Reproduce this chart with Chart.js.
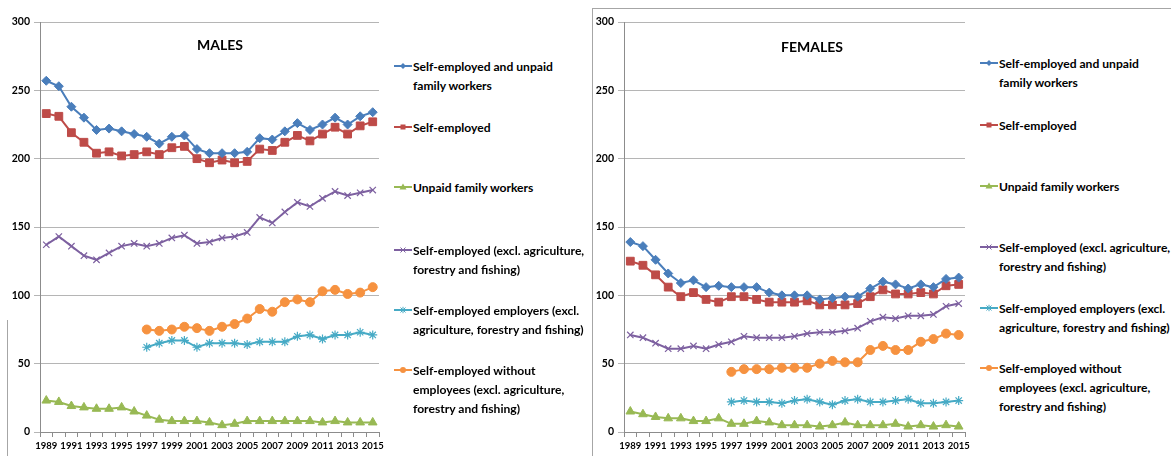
<!DOCTYPE html>
<html>
<head>
<meta charset="utf-8">
<script src="https://cdn.jsdelivr.net/npm/chart.js@4"></script>
<style>
  body { margin: 0; background: #fff; width: 1171px; height: 456px; position: relative; overflow: hidden; font-family: Lato, "Open Sans", sans-serif; }
  canvas { position: absolute; top: 0; }
  #malesChart { left: 0; }
  #femalesChart { left: 584px; }
  .title { position: absolute; font-weight: bold; font-size: 14px; color: #000; transform: translateX(-50%); }
  .legend-item { position: absolute; font-weight: bold; font-size: 12.1px; line-height: 19px; color: #000; white-space: nowrap; }
  .legend-item svg { position: absolute; left: -19px; top: 4px; }
  .frame { position: absolute; background: #a6a6a6; }
</style>
</head>
<body>
<div class="frame" style="left:592px;top:8px;width:579px;height:1px"></div>
<div class="frame" style="left:592px;top:8px;width:1px;height:448px"></div>
<div class="frame" style="left:7px;top:320px;width:1px;height:136px"></div>

<canvas id="malesChart" width="391" height="456"></canvas>
<canvas id="femalesChart" width="392" height="456"></canvas>
<div class="title" style="left:220px;top:36px">MALES</div>
<div class="title" style="left:812px;top:38px">FEMALES</div>
<div id="malesLegend"></div>
<div id="femalesLegend"></div>

<script>
// DATA
const years = ["1989","1990","1991","1992","1993","1994","1995","1996","1997","1998","1999","2000","2001","2002",
               "2003","2004","2005","2006","2007","2008","2009","2010","2011","2012","2013","2014","2015"];
const yTicks = [0, 50, 100, 150, 200, 250, 300];

const seriesLabels = [
    ["Self-employed and unpaid", "family workers"],
    ["Self-employed"],
    ["Unpaid family workers"],
    ["Self-employed (excl. agriculture,", "forestry and fishing)"],
    ["Self-employed employers (excl.", "agriculture, forestry and fishing)"],
    ["Self-employed without", "employees (excl. agriculture,", "forestry and fishing)"]
];

// males
const mSelfAndUnpaid = [257,253,238,230,221,222,220,218,216,211,216,217,207,204,204,204,205,215,214,220,226,221,225,230,225,231,234];
const mSelfEmployed  = [233,231,219,212,204,205,202,203,205,203,208,209,200,197,199,197,198,207,206,212,217,213,218,223,218,224,227];
const mUnpaid        = [23,22,19,18,17,17,18,15,12,9,8,8,8,7,5,6,8,8,8,8,8,8,7,8,7,7,7];
const mExclAgri      = [137,143,136,129,126,131,136,138,136,138,142,144,138,139,142,143,146,157,153,161,168,165,171,176,173,175,177];
const mEmployers     = [null,null,null,null,null,null,null,null,62,65,67,67,62,65,65,65,64,66,66,66,70,71,68,71,71,73,71];
const mNoEmployees   = [null,null,null,null,null,null,null,null,75,74,75,77,76,74,77,79,83,90,88,95,97,95,103,104,101,102,106];

// females
const fSelfAndUnpaid = [139,136,126,116,109,111,106,107,106,106,106,102,100,100,100,97,98,99,99,105,110,108,105,108,106,112,113];
const fSelfEmployed  = [125,122,115,106,99,102,97,95,99,99,97,95,95,95,96,93,93,93,94,99,104,101,101,102,101,107,108];
const fUnpaid        = [15,13,11,10,10,8,8,10,6,6,8,7,5,5,5,4,5,7,5,5,5,6,4,5,4,5,4];
const fExclAgri      = [71,69,65,61,61,63,61,64,66,70,69,69,69,70,72,73,73,74,76,81,84,83,85,85,86,92,94];
const fEmployers     = [null,null,null,null,null,null,null,null,22,23,22,22,21,23,24,22,20,23,24,22,22,23,24,21,21,22,23];
const fNoEmployees   = [null,null,null,null,null,null,null,null,44,46,46,46,47,47,47,50,52,51,51,60,63,60,60,66,68,72,71];

// STYLES
const colors = ["#4A7EBB", "#BE4B48", "#98B954", "#7D60A0", "#46AAC5", "#F69240"];
const markers = ["rectRot", "rect", "triangle", "crossRot", "star", "circle"];
const radii = [4.5, 5.5, 5, 4.5, 4.5, 4.5];

function makeDatasets(series) {
    return series.map((data, i) => ({
        label: seriesLabels[i].join(" "),
        data: data,
        borderColor: colors[i],
        backgroundColor: colors[i],
        pointBackgroundColor: colors[i],
        pointBorderColor: colors[i],
        pointStyle: markers[i],
        pointRadius: radii[i],
        pointBorderWidth: (markers[i] === "crossRot" || markers[i] === "star") ? 1.2 : 1,
        borderWidth: 2,
        spanGaps: false,
        tension: 0
    }));
}

function makeChart(id, series, padRight) {
    return new Chart(document.getElementById(id), {
        type: "line",
        data: { labels: years, datasets: makeDatasets(series) },
        options: {
            responsive: false,
            animation: false,
            layout: { padding: { top: 22, right: padRight, left: 0, bottom: 0 } },
            plugins: { legend: { display: false }, tooltip: { enabled: false } },
            scales: {
                x: {
                    offset: true,
                    grid: { offset: true, drawOnChartArea: false, tickLength: 5, color: "#8c8c8c" },
                    border: { color: "#8c8c8c" },
                    ticks: {
                        autoSkip: false, maxRotation: 0, padding: 3, color: "#000",
                        font: { family: "Lato", weight: "bold", size: 9.5 },
                        callback: (v, i) => i % 2 === 0 ? years[i] : ""
                    },
                    afterFit: s => { s.height = 24; }
                },
                y: {
                    min: yTicks[0], max: yTicks[yTicks.length - 1],
                    afterBuildTicks: s => { s.ticks = yTicks.map(v => ({ value: v })); },
                    grid: { color: "#b5b5b5", tickLength: 6 },
                    border: { color: "#8c8c8c" },
                    ticks: { color: "#000", padding: 4, font: { family: "Lato", weight: "bold", size: 10.5 } },
                    afterFit: s => { s.width = 40; }
                }
            }
        }
    });
}

makeChart("malesChart", [mSelfAndUnpaid, mSelfEmployed, mUnpaid, mExclAgri, mEmployers, mNoEmployees], 12);
makeChart("femalesChart", [fSelfAndUnpaid, fSelfEmployed, fUnpaid, fExclAgri, fEmployers, fNoEmployees], 11);

// LEGENDS
function markerSvg(i) {
    const c = colors[i];
    let shape = "";
    if (markers[i] === "rectRot") shape = `<polygon points="9,2 12,5 9,8 6,5" fill="${c}"/>`;
    else if (markers[i] === "rect") shape = `<rect x="6.5" y="2.5" width="5" height="5" fill="${c}"/>`;
    else if (markers[i] === "triangle") shape = `<polygon points="9,1.5 12.5,7.5 5.5,7.5" fill="${c}"/>`;
    else if (markers[i] === "crossRot") shape = `<path d="M6.5 2.5 L11.5 7.5 M11.5 2.5 L6.5 7.5" stroke="${c}" stroke-width="1"/>`;
    else if (markers[i] === "star") shape = `<path d="M6.5 2.5 L11.5 7.5 M11.5 2.5 L6.5 7.5 M9 1.8 L9 8.2" stroke="${c}" stroke-width="1"/>`;
    else shape = `<circle cx="9" cy="5" r="3" fill="${c}"/>`;
    return `<svg width="18" height="10"><line x1="0" y1="5" x2="18" y2="5" stroke="${c}" stroke-width="2"/>${shape}</svg>`;
}

function buildLegend(id, left, centers) {
    const box = document.getElementById(id);
    seriesLabels.forEach((lines, i) => {
        const d = document.createElement("div");
        d.className = "legend-item";
        d.style.left = left + "px";
        d.style.top = (centers[i] - 9.5) + "px";
        d.innerHTML = markerSvg(i) + lines.join("<br>");
        box.appendChild(d);
    });
}

buildLegend("malesLegend", 413, [66, 127, 187, 250, 310, 370]);
buildLegend("femalesLegend", 999, [63, 125, 186, 247, 308, 368]);
</script>
</body>
</html>
